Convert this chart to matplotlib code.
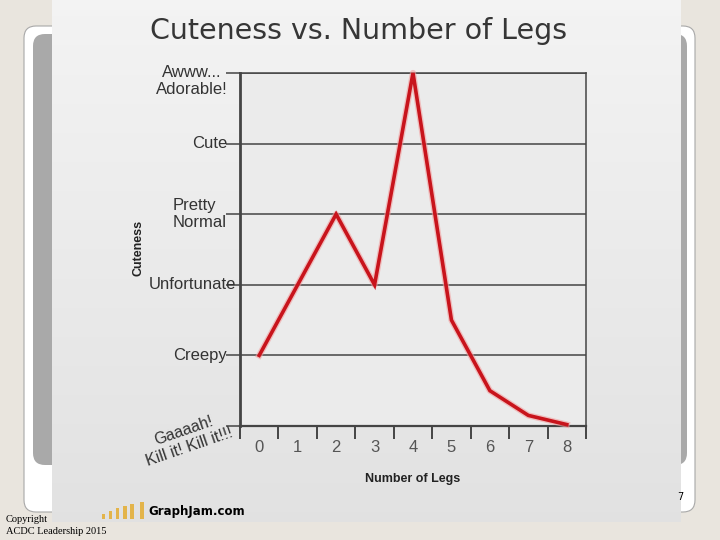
import numpy as np
import matplotlib
matplotlib.use("Agg")
import matplotlib.pyplot as plt
from matplotlib.patches import FancyBboxPatch, Rectangle
from matplotlib.transforms import blended_transform_factory, offset_copy

# ---- data ----
legs = [0, 1, 2, 3, 4, 5, 6, 7, 8]
cuteness = [1.0, 2.0, 3.0, 2.0, 5.0, 1.5, 0.5, 0.15, 0.02]
level_values = [1, 2, 3, 4, 5]
level_labels = ["Creepy", "Unfortunate", "Pretty\nNormal", "Cute", "Awww...\nAdorable!"]
bottom_label = "Gaaaah!\nKill it! Kill it!!!"
title = "Cuteness vs. Number of Legs"
xlabel = "Number of Legs"
ylabel = "Cuteness"

W, H = 720, 540
fig = plt.figure(figsize=(7.2, 5.4), dpi=100)
fig.patch.set_facecolor("#e9e5de")

# background axes in pixel coordinates
bg = fig.add_axes([0, 0, 1, 1])
bg.set_xlim(0, W)
bg.set_ylim(H, 0)
bg.axis("off")
bg.set_zorder(0)

# slide frame
bg.add_patch(FancyBboxPatch((24, 26), 671, 486, boxstyle="round,pad=0,rounding_size=12",
                            facecolor="white", edgecolor="#a8a8a8", linewidth=0.8))
bg.add_patch(FancyBboxPatch((33, 34), 654, 431, boxstyle="round,pad=0,rounding_size=12",
                            facecolor="#a9a9a9", edgecolor="none"))
bg.text(680, 497, "7", fontsize=7, ha="center", va="center", color="black")

# chart picture with gradient
grad = np.linspace(0, 1, 256).reshape(-1, 1)
top = np.array([0.955, 0.955, 0.955])
bot = np.array([0.885, 0.885, 0.885])
img = top[None, None, :] * (1 - grad[:, :, None]) + bot[None, None, :] * grad[:, :, None]
bg.imshow(img, extent=[52, 681, 522, 0], aspect="auto", zorder=2)
bg.set_xlim(0, W)
bg.set_ylim(H, 0)

# copyright
bg.text(6, 520, "Copyright", fontsize=7.5, family="Liberation Serif", ha="left", va="center", color="black")
bg.text(6, 531, "ACDC Leadership 2015", fontsize=7.5, family="Liberation Serif", ha="left", va="center", color="black")

# GraphJam logo
bar_x = [102, 109, 116, 123, 130, 140]
bar_top = [514, 511, 508, 506, 504, 502]
bar_w = [3, 3, 3, 4, 4, 4]
for bx, bt, bw in zip(bar_x, bar_top, bar_w):
    bg.add_patch(Rectangle((bx, bt), bw, 519 - bt, facecolor="#e3b44a", edgecolor="none", zorder=3))
bg.text(148, 512, "GraphJam.com", fontsize=8.5, fontweight="bold", family="DejaVu Sans",
        ha="left", va="center", color="black", zorder=3)

# title
bg.text(359, 31, title, fontsize=20.5, family="DejaVu Sans", ha="center", va="center",
        color="#363636", zorder=3)

# ---- main chart ----
L, R, T, B = 240, 586, 73, 426
ax = fig.add_axes([L / W, 1 - B / H, (R - L) / W, (B - T) / H])
ax.set_zorder(2)
ax.set_facecolor("#ebebeb")
ax.set_xlim(-0.5, 8.5)
ax.set_ylim(0, 5)

for v in level_values:
    ax.axhline(v, color="#444444", linewidth=1.1, zorder=1)

ax.plot(legs, cuteness, color="#f2a0a0", linewidth=4.5, alpha=0.6, solid_joinstyle="round",
        clip_on=False, zorder=3)
ax.plot(legs, cuteness, color="#c8141c", linewidth=2.6, solid_joinstyle="miter",
        clip_on=False, zorder=4)

for side in ["left", "bottom", "right", "top"]:
    ax.spines[side].set_color("#444444")
ax.spines["left"].set_linewidth(2.0)
ax.spines["bottom"].set_linewidth(1.6)
ax.spines["right"].set_linewidth(1.1)
ax.spines["top"].set_linewidth(1.1)

# x ticks: marks at half positions, labels at integers
ax.set_xticks(np.arange(-0.5, 9.0, 1.0))
ax.set_xticklabels([])
ax.set_xticks(legs, minor=True)
ax.set_xticklabels([str(v) for v in legs], minor=True)
ax.tick_params(axis="x", which="major", length=9, width=1.4, color="#444444", direction="out")
ax.tick_params(axis="x", which="minor", length=0, pad=10, labelsize=12, labelcolor="#555555")
for lab in ax.get_xticklabels(minor=True):
    lab.set_family("Liberation Sans")

# y ticks
ax.set_yticks([0] + level_values)
ax.set_yticklabels([])
ax.tick_params(axis="y", which="major", length=10, width=1.1, color="#444444", direction="out")

trans = blended_transform_factory(ax.transAxes, ax.transData)
label_right = {1: 227, 2: 236, 3: 227, 4: 227, 5: 228}
for v, lab in zip(level_values, level_labels):
    xpix = label_right[v]
    xa = (xpix - L) / (R - L)
    ydown = 8 if v == 5 else 0  # first line centered on the tick
    t = offset_copy(trans, fig=fig, x=0, y=-ydown * 0.72, units="points")
    ma = "left" if v == 3 else "center"
    ax.text(xa, v, lab, transform=t, ha="right", va="center", multialignment=ma,
            fontsize=12, family="Liberation Sans", color="#333333", linespacing=1.12,
            clip_on=False)

# rotated bottom label
bg.text(187, 439, bottom_label, fontsize=11.5, family="Liberation Sans", color="#333333",
        rotation=19, ha="center", va="center", multialignment="center", linespacing=1.2,
        rotation_mode="anchor", zorder=3)

# axis labels
bg.text(413, 479, xlabel, fontsize=9, fontweight="bold", family="Liberation Sans",
        ha="center", va="center", color="#222222", zorder=3)
bg.text(138, 248, ylabel, fontsize=9, fontweight="bold", family="Liberation Sans",
        ha="center", va="center", rotation=90, color="#222222", zorder=3)

fig.savefig("out.png", dpi=100, facecolor=fig.get_facecolor())
